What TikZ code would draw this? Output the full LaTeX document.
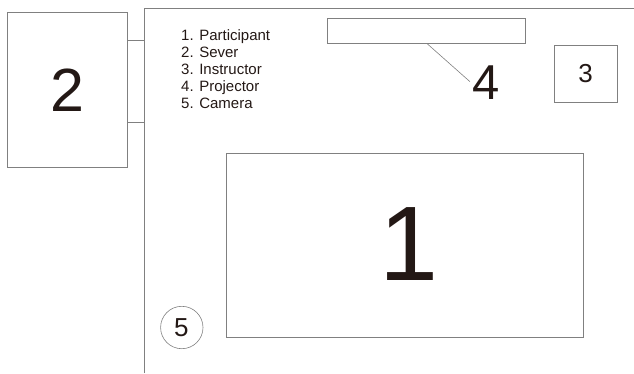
\documentclass[tikz,border=0pt]{standalone}
\usepackage{fontspec}
\setmainfont{Liberation Sans}
\definecolor{ink}{RGB}{35,24,21}
\begin{document}
\begin{tikzpicture}[x=1pt,y=-1pt,
  wall/.style={draw=black!50,line width=0.9pt},
  boxed/.style={draw=black!50,line width=0.9pt},
  numlabel/.style={inner sep=0pt,anchor=center,text=ink},
  legend/.style={inner sep=0pt,anchor=base west,font=\fontsize{15}{17}\selectfont,text=ink}]
\useasboundingbox (0,0) rectangle (634,373);
% room walls
\coordinate (wallTop) at (144,8);
\coordinate (wallBottom) at (144,373);
\coordinate (wallRight) at (634,8);
\draw[wall] (wallBottom) -- (wallTop) -- (wallRight);
% server box
\draw[boxed] (7.5,12.5) rectangle (127.7,167.3);
\node[numlabel,font=\fontsize{61}{61}\selectfont] (n2) at (67.5,90) {2};
% connector between server and room
\draw[boxed] (127.7,40.7) rectangle (144,122.3);
% legend
\node[legend] (leg1) at (181,40) {1. Participant};
\node[legend] (leg2) at (181,57) {2. Sever};
\node[legend] (leg3) at (181,74) {3. Instructor};
\node[legend] (leg4) at (181,91) {4. Projector};
\node[legend] (leg5) at (181,108) {5. Camera};
% projector
\draw[boxed] (327.3,18.3) rectangle (525.7,43.3);
\coordinate (projBot) at (426.7,43.3);
\coordinate (leadEnd) at (470,81.7);
\draw[draw=black!50,line width=0.6pt] (projBot) -- (leadEnd);
\node[numlabel,font=\fontsize{49}{49}\selectfont] (n4) at (485.8,83) {4};
% instructor
\draw[boxed] (554.5,45.7) rectangle (617.3,102.3);
\node[numlabel,font=\fontsize{26}{26}\selectfont] (n3) at (585.5,74) {3};
% participant area
\draw[boxed] (226.7,153.3) rectangle (583.3,337.2);
\node[numlabel,font=\fontsize{106}{106}\selectfont] (n1) at (409,244.5) {1};
% camera
\draw[draw=black!50,line width=0.6pt] (181.8,327.5) circle (21.2);
\node[numlabel,font=\fontsize{26}{26}\selectfont] (n5) at (181.3,327.5) {5};
\end{tikzpicture}
\end{document}
